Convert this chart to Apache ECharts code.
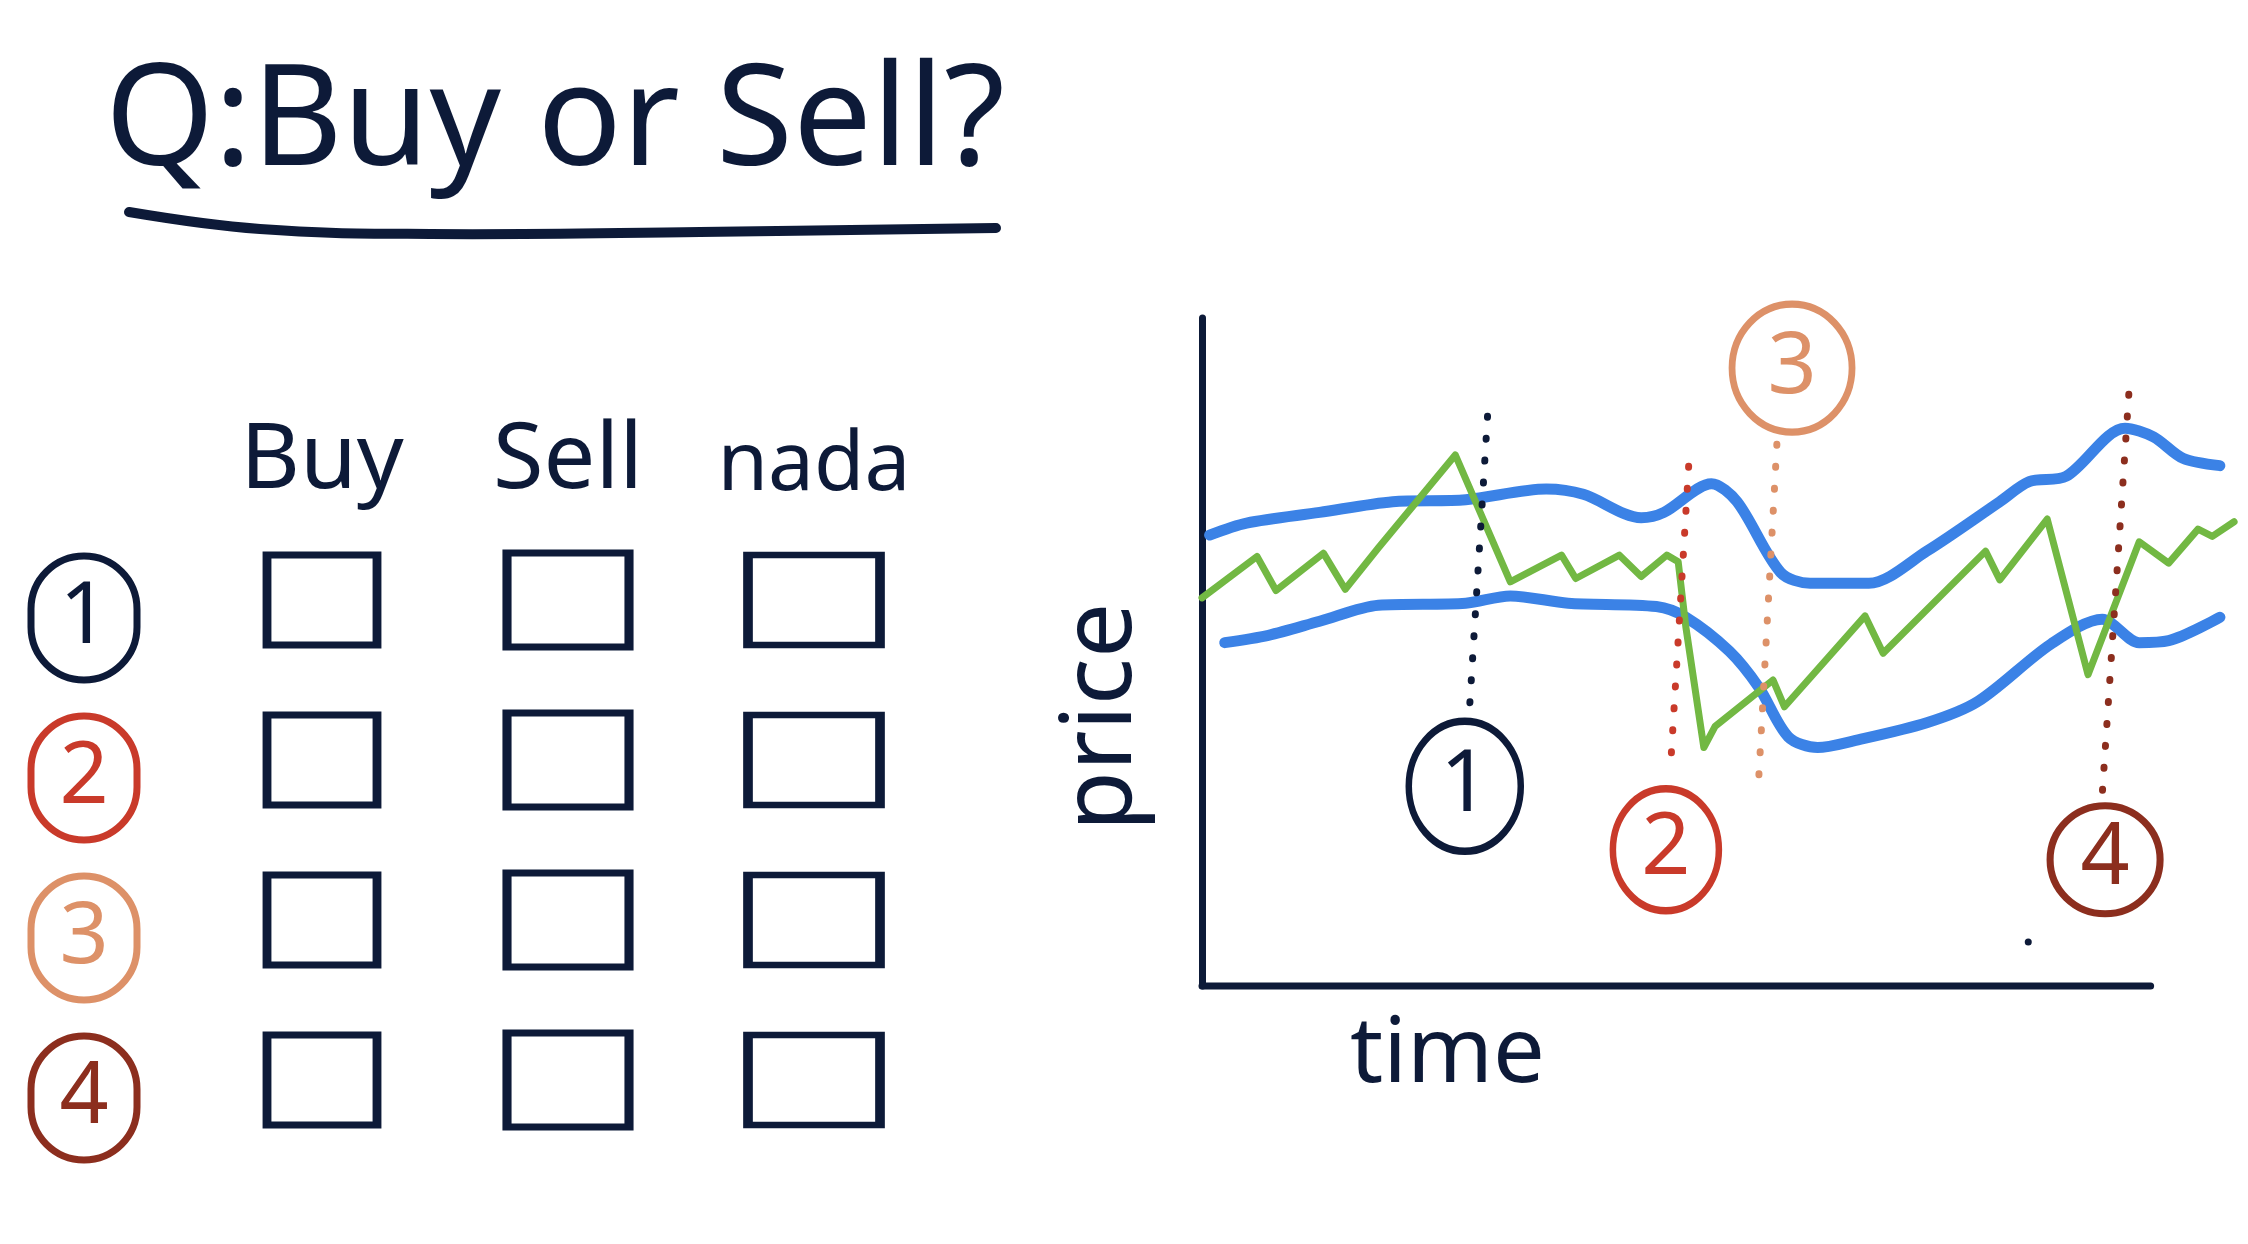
<!DOCTYPE html>
<html>
<head>
<meta charset="UTF-8">
<title>Buy or Sell?</title>
<script src="https://cdn.jsdelivr.net/npm/echarts@6/dist/echarts.min.js"></script>
<style>
html,body{margin:0;padding:0;background:#fff;}
#main{width:2248px;height:1244px;}
</style>
</head>
<body>
<div id="main"></div>
<script type="text/javascript">
// quiz table
var choices = ['Buy', 'Sell', 'nada'];
var cases = ['1', '2', '3', '4'];

// price chart, x = time, y = price
var upperBand = [[0.8,67.5],[4.7,69.3],[12.4,70.9],[20.1,72.5],[27.8,72.8],[36.3,74.4],[40.2,73.6],
  [46.3,70.1],[48.7,70.9],[53.7,75.2],[56.4,72.5],[61.0,61.9],[64.1,60.3],[70.3,60.3],[76.4,65.1],
  [84.1,72.5],[87.2,75.5],[91.1,76.3],[97.3,83.5],[100.3,82.2],[103.4,79.0],[107.3,77.9]];
var lowerBand = [[2.4,51.4],[7.0,52.5],[12.4,54.6],[18.6,57.0],[27.8,57.3],[32.5,58.4],[38.6,57.3],
  [47.9,56.8],[51.0,55.2],[55.6,50.1],[58.7,44.7],[61.8,37.3],[64.9,35.7],[68.7,36.7],[76.4,39.4],
  [81.8,42.6],[89.5,51.2],[94.9,54.9],[98.8,51.4],[101.9,51.7],[107.3,55.2]];
var price = [[0.0,58.1],[5.8,64.3],[7.8,59.2],[12.8,64.8],[15.1,59.4],[18.6,65.6],[26.7,79.5],
  [32.5,60.5],[37.9,64.5],[39.4,61.0],[44.0,64.5],[46.3,61.3],[49.0,64.5],[50.2,63.5],[51.0,53.8],
  [52.9,35.7],[54.1,38.9],[60.2,45.8],[61.4,41.8],[69.9,55.4],[71.8,49.8],[82.6,65.1],[84.1,60.8],
  [89.1,69.9],[93.4,46.6],[98.8,66.5],[101.9,63.3],[105.0,68.4],[106.5,67.3],[108.8,69.5]];
// time axis is drawn shorter than the plotted lines
var timeAxis = [[0,0],[100,0]];
// dotted guide for each numbered moment: [top, bottom]
var guide1 = [[30.1,85.3],[28.2,41.5]];
var guide2 = [[51.3,77.8],[49.4,33.0]];
var guide3 = [[60.6,81.1],[58.7,31.4]];
var guide4 = [[97.7,88.6],[94.9,28.7]];
var badges = [[27.7,29.9,'1'],[48.9,20.4,'2'],[62.2,92.5,'3'],[95.2,18.9,'4']];
var strayDot = [[87.1,6.6]];

var ink = '#0d1a38';
var caseColors = ['#0d1a38', '#c93a2a', '#dd9168', '#8c2e1e'];
var badgeSizes = [[112,130],[106,122],[120,128],[110,108]];
var boxSizes = [[110,90],[122,94],[132,90]];
var font = '"Noto Sans", sans-serif';

var cells = [];
for (var r = 0; r < cases.length; r++) {
  for (var c = 0; c < choices.length; c++) {
    cells.push([c, r]);
  }
}

var rich = {};
caseColors.forEach(function (col, i) {
  rich['c' + i] = {
    color: col, fontSize: 86, fontFamily: font,
    borderColor: col, borderWidth: 7, borderRadius: 62,
    width: 106, height: 124, lineHeight: 124, align: 'center'
  };
});

function guide(data, color) {
  return {
    type: 'line', xAxisIndex: 1, yAxisIndex: 1, data: data, symbol: 'none', silent: true,
    lineStyle: {color: color, width: 7, type: [1, 21], cap: 'round'}, z: 5
  };
}

var badgeData = badges.map(function (b, i) {
  return {value: b, symbolSize: badgeSizes[i],
    itemStyle: {borderColor: caseColors[i]}, label: {color: caseColors[i]}};
});

var mychart = echarts.init(document.getElementById('main'));
var option = {
  backgroundColor: '#ffffff',
  animation: false,
  title: [
    {text: 'Q:Buy or Sell?', left: 100, top: 50,
     textStyle: {fontSize: 140, fontWeight: 'normal', color: ink, fontFamily: font}},
    {text: 'time', left: 1345, top: 1005,
     textStyle: {fontSize: 92, fontWeight: 'normal', color: ink, fontFamily: font}}
  ],
  graphic: [{
    type: 'polyline', silent: true,
    shape: {points: [[129,212],[260,229],[430,234],[700,232],[996,228]], smooth: 0.4},
    style: {stroke: ink, lineWidth: 10, lineCap: 'round', fill: null}
  }],
  grid: [
    {left: 199, top: 520, width: 738, height: 640},
    {left: 1202, top: 318, right: 12, bottom: 258}
  ],
  xAxis: [
    {type: 'category', gridIndex: 0, data: choices, position: 'top',
     axisLine: {show: false}, axisTick: {show: false}, splitLine: {show: false},
     axisLabel: {interval: 0, margin: 12,
       formatter: function (v) { return (v === 'nada' ? '{n|' : '{h|') + v + '}'; },
       rich: {
         h: {fontSize: 92, color: ink, fontFamily: font},
         n: {fontSize: 82, color: ink, fontFamily: font}
       }}},
    {type: 'value', gridIndex: 1, min: 0, max: 109,
     axisLine: {show: false}, axisTick: {show: false}, axisLabel: {show: false}, splitLine: {show: false}}
  ],
  yAxis: [
    {type: 'category', gridIndex: 0, data: cases, inverse: true,
     axisLine: {show: false}, axisTick: {show: false}, splitLine: {show: false},
     axisLabel: {margin: 62, interval: 0, rich: rich, padding: [36, 0, 0, 0],
       formatter: function (v, i) { return '{c' + i + '|' + v + '}'; }}},
    {type: 'value', gridIndex: 1, min: 0, max: 100,
     name: 'price', nameLocation: 'middle', nameRotate: 90, nameGap: 50,
     nameTextStyle: {fontSize: 98, color: ink, fontFamily: font, padding: [0, 130, 0, 0]},
     axisLine: {show: true, lineStyle: {color: ink, width: 7, cap: 'round'}},
     axisTick: {show: false}, axisLabel: {show: false}, splitLine: {show: false}}
  ],
  series: [
    {type: 'scatter', xAxisIndex: 0, yAxisIndex: 0, data: cells, silent: true,
     symbol: 'rect',
     symbolSize: function (val) { return boxSizes[val[0]]; },
     itemStyle: {color: 'rgba(0,0,0,0)', borderColor: ink, borderWidth: 8, opacity: 1}},
    {type: 'line', xAxisIndex: 1, yAxisIndex: 1, data: timeAxis, symbol: 'none', silent: true,
     clip: false, lineStyle: {color: ink, width: 7, cap: 'round'}, z: 1},
    {type: 'line', xAxisIndex: 1, yAxisIndex: 1, data: upperBand, symbol: 'none', smooth: 0.3,
     lineStyle: {color: '#3b82e6', width: 11, cap: 'round', join: 'round'}, z: 2},
    {type: 'line', xAxisIndex: 1, yAxisIndex: 1, data: lowerBand, symbol: 'none', smooth: 0.3,
     lineStyle: {color: '#3b82e6', width: 11, cap: 'round', join: 'round'}, z: 2},
    {type: 'line', xAxisIndex: 1, yAxisIndex: 1, data: price, symbol: 'none',
     lineStyle: {color: '#72b843', width: 7, cap: 'round', join: 'round'}, z: 3},
    guide(guide1, caseColors[0]),
    guide(guide2, caseColors[1]),
    guide(guide3, caseColors[2]),
    guide(guide4, caseColors[3]),
    {type: 'scatter', xAxisIndex: 1, yAxisIndex: 1, data: badgeData, silent: true, z: 6,
     symbol: 'circle',
     itemStyle: {color: '#ffffff', borderWidth: 7, opacity: 1},
     label: {show: true, position: 'inside', fontSize: 86, fontFamily: font,
       formatter: function (p) { return p.value[2]; }}},
    {type: 'scatter', xAxisIndex: 1, yAxisIndex: 1, data: strayDot, silent: true,
     symbolSize: 7, itemStyle: {color: ink, opacity: 1}}
  ]
};
mychart.setOption(option);
</script>
</body>
</html>
